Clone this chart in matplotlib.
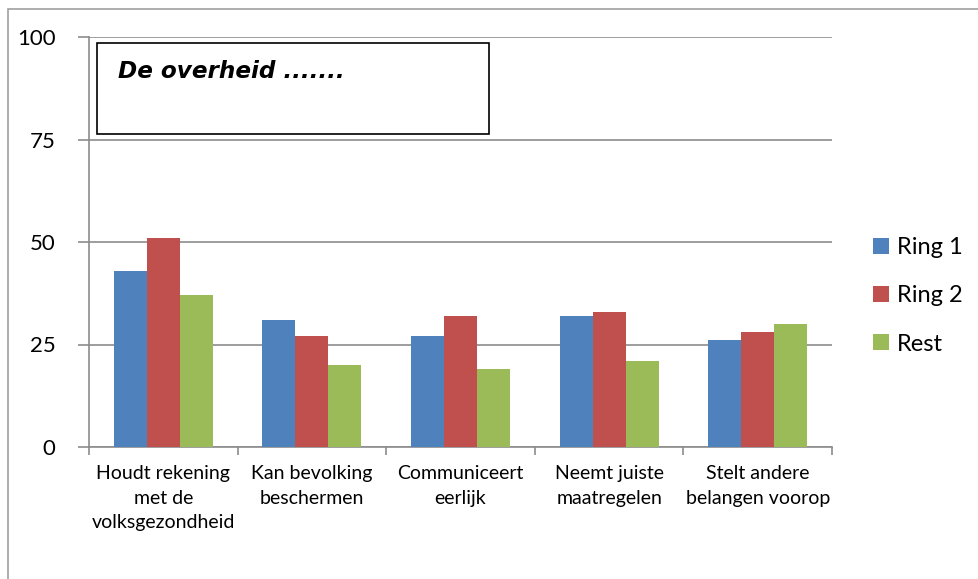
import numpy as np
import matplotlib.pyplot as plt
from matplotlib.patches import Rectangle

categories = ['Houdt rekening\nmet de\nvolksgezondheid', 'Kan bevolking\nbeschermen',
              'Communiceert\neerlijk', 'Neemt juiste\nmaatregelen', 'Stelt andere\nbelangen voorop']
ring1 = [43, 31, 27, 32, 26]
ring2 = [51, 27, 32, 33, 28]
rest = [37, 20, 19, 21, 30]
series = [('Ring 1', ring1, '#4f81bd'), ('Ring 2', ring2, '#c0504d'), ('Rest', rest, '#9bbb59')]
yticks = [0, 25, 50, 75, 100]

plt.rcParams['font.family'] = ['Lato', 'DejaVu Sans']

W, H = 979, 579
fig = plt.figure(figsize=(W / 100, H / 100), dpi=100)
ax = fig.add_axes([89 / W, 1 - 447 / H, (832 - 89) / W, (447 - 37) / H])

# outer chart frame (cut off on right/bottom like the screenshot)
fig.patches.append(Rectangle((8 / W, -0.1), 1.2, 1.1 - 9 / H, transform=fig.transFigure,
                             fill=False, edgecolor='#a0a0a0', lw=1.2))

x = np.arange(len(categories))
bw = 0.222
for i, (name, vals, col) in enumerate(series):
    ax.bar(x + (i - 1) * bw, vals, width=bw, color=col, label=name, zorder=3)

ax.set_xlim(-0.5, len(categories) - 0.5)
ax.set_ylim(0, 100)
ax.set_yticks(yticks)
ax.set_yticklabels([str(v) for v in yticks], fontsize=16)
ax.yaxis.grid(True, color='#8c8c8c', lw=1.2, zorder=0)
ax.set_xticks(x)
ax.set_xticklabels(categories, fontsize=14, linespacing=1.55)
ax.set_xticks(np.arange(len(categories) + 1) - 0.5, minor=True)
ax.tick_params(axis='x', which='major', length=0, pad=13)
ax.tick_params(axis='x', which='minor', length=6, color='#8c8c8c', width=1.2)
ax.tick_params(axis='y', length=8, color='#8c8c8c', width=1.2, pad=16)
for s in ['top', 'right']:
    ax.spines[s].set_visible(False)
for s in ['left', 'bottom']:
    ax.spines[s].set_color('#8c8c8c')
    ax.spines[s].set_linewidth(1.2)

# title box
fig.patches.append(Rectangle((97 / W, 1 - 134 / H), (489 - 97) / W, (134 - 43) / H,
                             transform=fig.transFigure, facecolor='white',
                             edgecolor='black', lw=1.2, zorder=5))
fig.text(118 / W, 1 - 72 / H, 'De overheid .......', fontsize=16.7, fontweight='bold',
         fontstyle='italic', family='DejaVu Sans', va='center', ha='left', zorder=6)

fig.legend(loc='center left', bbox_to_anchor=(852 / W, 1 - 296 / H), frameon=False,
           fontsize=17, handlelength=0.65, handleheight=0.65, handletextpad=0.35,
           labelspacing=1.15)

fig.savefig('out.png', dpi=100)
